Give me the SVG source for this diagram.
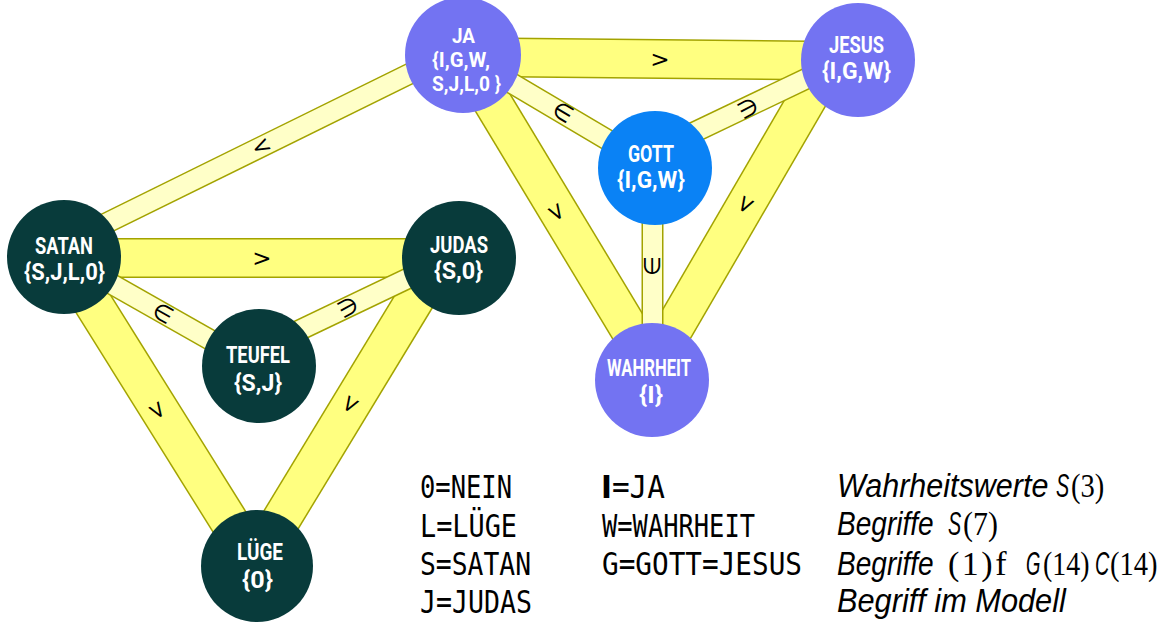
<svg xmlns="http://www.w3.org/2000/svg" width="1166" height="623" viewBox="0 0 1166 623">
<style>
.bo{stroke:#A3A300;stroke-width:40;fill:none}
.bi{stroke:#FFFF80;stroke-width:37;fill:none}
.so{stroke:#A3A300;stroke-width:22;fill:none}
.si{stroke:#FFFFC8;stroke-width:19;fill:none}
.lab{font-family:"DejaVu Sans",sans-serif;font-size:23px;fill:#000;text-anchor:middle;dominant-baseline:central}
.nl{font-family:Roboto,"Liberation Sans",sans-serif;font-weight:700;font-size:23px;fill:#fff}
.ja{font-size:21px}
.p{fill:#7373F2}
.g{fill:#0A82F5}
.d{fill:#083B3B}
.mono{font-family:"DejaVu Sans Mono",monospace;font-size:32px;fill:#000}
.it{font-family:"Liberation Sans",sans-serif;font-style:italic;font-size:33px;fill:#000}
.sf{font-family:"Liberation Serif",serif;font-size:34px;fill:#000}
</style>
<rect width="1166" height="623" fill="#fff"/>
<g id="connectors">
  <line class="bo" x1="464" y1="57" x2="858" y2="61"/><line class="bi" x1="464" y1="57" x2="858" y2="61"/>
  <line class="bo" x1="464" y1="55" x2="660" y2="380"/><line class="bi" x1="464" y1="55" x2="660" y2="380"/>
  <line class="bo" x1="830" y1="60" x2="644" y2="380"/><line class="bi" x1="830" y1="60" x2="644" y2="380"/>
  <line class="bo" x1="64" y1="258" x2="459" y2="258"/><line class="bi" x1="64" y1="258" x2="459" y2="258"/>
  <line class="bo" x1="64" y1="257" x2="257" y2="566"/><line class="bi" x1="64" y1="257" x2="257" y2="566"/>
  <line class="bo" x1="440" y1="258" x2="253" y2="566"/><line class="bi" x1="440" y1="258" x2="253" y2="566"/>
  <line class="so" x1="64" y1="244" x2="464" y2="47"/><line class="si" x1="64" y1="244" x2="464" y2="47"/>
  <line class="so" x1="464" y1="55" x2="655" y2="168"/><line class="si" x1="464" y1="55" x2="655" y2="168"/>
  <line class="so" x1="655" y1="151" x2="858" y2="54"/><line class="si" x1="655" y1="151" x2="858" y2="54"/>
  <line class="so" x1="652.5" y1="168" x2="652.5" y2="380"/><line class="si" x1="652.5" y1="168" x2="652.5" y2="380"/>
  <line class="so" x1="64" y1="257" x2="258" y2="367"/><line class="si" x1="64" y1="257" x2="258" y2="367"/>
  <line class="so" x1="258" y1="350" x2="459" y2="254"/><line class="si" x1="258" y1="350" x2="459" y2="254"/>
  <text class="lab" transform="translate(660,59) rotate(0.6)">&gt;</text>
  <text class="lab" transform="translate(557,212) rotate(59)">&gt;</text>
  <text class="lab" transform="translate(746,205) rotate(120)">&gt;</text>
  <text class="lab" transform="translate(563,112) rotate(30.6)">∈</text>
  <text class="lab" transform="translate(748,108) rotate(-28)">∋</text>
  <text class="lab" transform="translate(652,266) rotate(90)">∋</text>
  <text class="lab" transform="translate(261,146) rotate(-26.5)">&lt;</text>
  <text class="lab" transform="translate(262,258)">&gt;</text>
  <text class="lab" transform="translate(163,313) rotate(29.5)">∈</text>
  <text class="lab" transform="translate(348,307) rotate(-28.5)">∋</text>
  <text class="lab" transform="translate(158,410) rotate(57.7)">&gt;</text>
  <text class="lab" transform="translate(351,405) rotate(121)">&gt;</text>
</g>
<g id="node-ja">
  <circle class="p" cx="463" cy="55" r="58"/>
  <text class="nl ja" x="452" y="43" textLength="23" lengthAdjust="spacingAndGlyphs">JA</text>
  <text class="nl ja" x="432" y="67" textLength="58" lengthAdjust="spacingAndGlyphs">{I,G,W,</text>
  <text class="nl ja" x="432" y="91" textLength="69" lengthAdjust="spacingAndGlyphs">S,J,L,0 }</text>
</g>
<g id="node-jesus">
  <circle class="p" cx="858" cy="60" r="57"/>
  <text class="nl" x="829" y="53" textLength="55" lengthAdjust="spacingAndGlyphs">JESUS</text>
  <text class="nl" x="822" y="79" textLength="69" lengthAdjust="spacingAndGlyphs">{I,G,W}</text>
</g>
<g id="node-gott">
  <circle class="g" cx="655" cy="168" r="57"/>
  <text class="nl" x="628" y="162" textLength="46" lengthAdjust="spacingAndGlyphs">GOTT</text>
  <text class="nl" x="617" y="188" textLength="68" lengthAdjust="spacingAndGlyphs">{I,G,W}</text>
</g>
<g id="node-wahrheit">
  <circle class="p" cx="652" cy="380" r="57"/>
  <text class="nl" x="607" y="376" textLength="84" lengthAdjust="spacingAndGlyphs">WAHRHEIT</text>
  <text class="nl" x="639" y="403" textLength="24" lengthAdjust="spacingAndGlyphs">{I}</text>
</g>
<g id="node-satan">
  <circle class="d" cx="64" cy="257" r="57"/>
  <text class="nl" x="35" y="254" textLength="58" lengthAdjust="spacingAndGlyphs">SATAN</text>
  <text class="nl" x="24" y="280" textLength="81" lengthAdjust="spacingAndGlyphs">{S,J,L,0}</text>
</g>
<g id="node-judas">
  <circle class="d" cx="459" cy="258" r="57"/>
  <text class="nl" x="430" y="253" textLength="58" lengthAdjust="spacingAndGlyphs">JUDAS</text>
  <text class="nl" x="434" y="279" textLength="49" lengthAdjust="spacingAndGlyphs">{S,0}</text>
</g>
<g id="node-teufel">
  <circle class="d" cx="259" cy="366" r="57"/>
  <text class="nl" x="226" y="363" textLength="64" lengthAdjust="spacingAndGlyphs">TEUFEL</text>
  <text class="nl" x="234" y="391" textLength="48" lengthAdjust="spacingAndGlyphs">{S,J}</text>
</g>
<g id="node-luege">
  <circle class="d" cx="257" cy="566" r="56"/>
  <text class="nl" x="237" y="560" textLength="46" lengthAdjust="spacingAndGlyphs">LÜGE</text>
  <text class="nl" x="242" y="588" textLength="31" lengthAdjust="spacingAndGlyphs">{0}</text>
</g>
<g id="legend">
  <text class="mono" x="420" y="498" textLength="92" lengthAdjust="spacingAndGlyphs">0=NEIN</text>
  <text class="mono" x="420" y="537" textLength="97" lengthAdjust="spacingAndGlyphs">L=LÜGE</text>
  <text class="mono" x="420" y="575" textLength="111" lengthAdjust="spacingAndGlyphs">S=SATAN</text>
  <text class="mono" x="420" y="613" textLength="112" lengthAdjust="spacingAndGlyphs">J=JUDAS</text>
  <text class="mono" x="601" y="498" textLength="64" lengthAdjust="spacingAndGlyphs"><tspan font-family="DejaVu Sans" font-weight="bold">I</tspan>=JA</text>
  <text class="mono" x="602" y="537" textLength="153" lengthAdjust="spacingAndGlyphs">W=WAHRHEIT</text>
  <text class="mono" x="602" y="575" textLength="200" lengthAdjust="spacingAndGlyphs">G=GOTT=JESUS</text>
  <text class="it" transform="translate(837,497) scale(0.925,1)">Wahrheitswerte</text>
  <text class="it" transform="translate(1056,497) scale(0.6,1)">S</text>
  <text class="sf" transform="translate(1071,497) scale(0.84,1)">(3)</text>
  <text class="it" transform="translate(837,535) scale(0.85,1)">Begriffe</text>
  <text class="it" transform="translate(948,535) scale(0.6,1)">S</text>
  <text class="sf" transform="translate(963,535) scale(0.88,1)">(7)</text>
  <text class="it" transform="translate(837,575) scale(0.85,1)">Begriffe</text>
  <text class="sf" transform="translate(948,575)" letter-spacing="2.5">(1)f</text>
  <text class="it" transform="translate(1026,575) scale(0.56,1)">G</text>
  <text class="sf" transform="translate(1043,575) scale(0.82,1)">(14)</text>
  <text class="it" transform="translate(1095,575) scale(0.6,1)">C</text>
  <text class="sf" transform="translate(1110,575) scale(0.84,1)">(14)</text>
  <text class="it" transform="translate(837,612) scale(0.932,1)">Begriff im Modell</text>
</g>
</svg>
